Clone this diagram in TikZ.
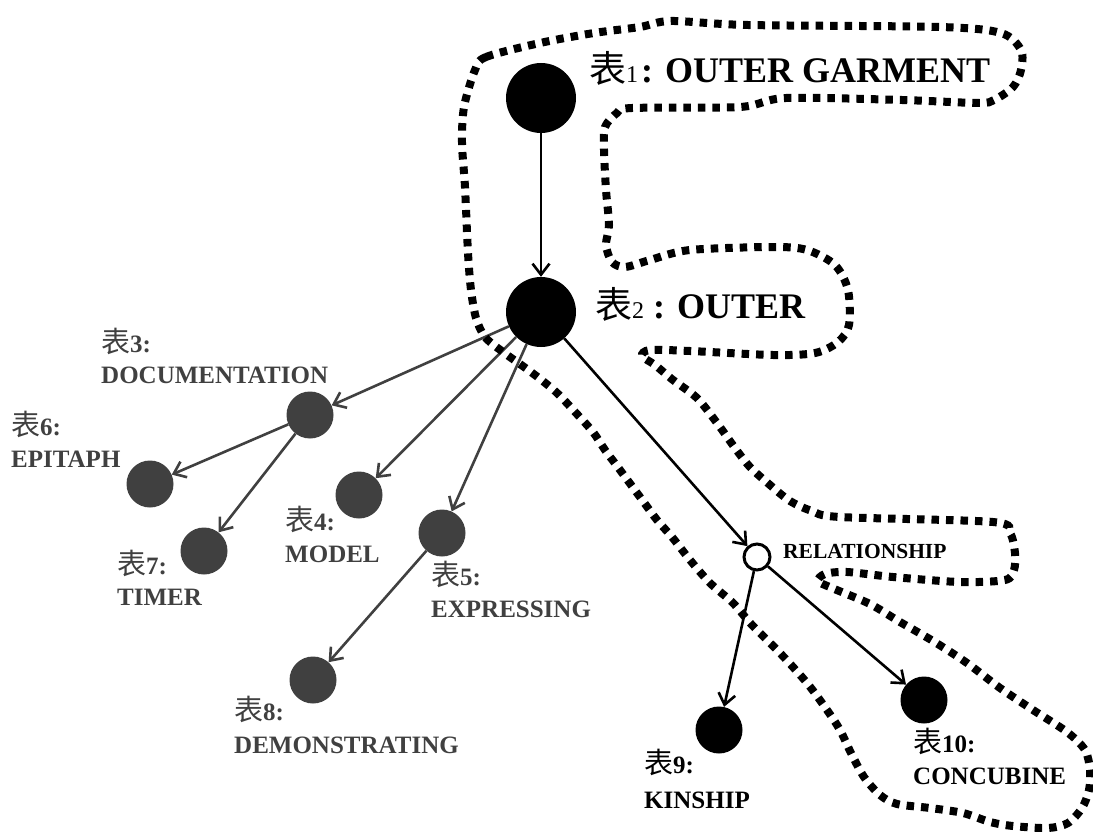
\documentclass[tikz,border=0pt]{standalone}
\usepackage{fontspec}
\setmainfont{Liberation Serif}
\newfontfamily\cjk{Noto Sans CJK SC}
\usetikzlibrary{arrows.meta}
\definecolor{ink}{HTML}{404040}

% CJK character in front of each table number
\newcommand\bz[1]{{\cjk\mdseries\fontsize{29}{30}\selectfont 表}#1}

\tikzset{
  big/.style={circle, fill=black, minimum size=70pt, inner sep=0pt},
  sub/.style={circle, fill=ink, minimum size=47pt, inner sep=0pt},
  leaf/.style={circle, fill=black, minimum size=47pt, inner sep=0pt},
  hub/.style={circle, draw=black, fill=white, line width=3pt, minimum size=26pt, inner sep=0pt},
  link/.style={line width=2.6pt, -{Straight Barb[length=11pt,width=17pt,line width=2.6pt]}},
  grey link/.style={link, draw=ink},
  tag/.style={anchor=base west, inner sep=0pt, font=\fontsize{25}{30}\selectfont\bfseries},
  outline/.style={line width=8pt, dash pattern=on 7.5pt off 7pt}
}

\begin{document}
\begin{tikzpicture}[x=1pt, y=-1pt]
\useasboundingbox (0,0) rectangle (1093,832);

% nodes
\node[big]  (n1)  at (541,98)  {};
\node[big]  (n2)  at (541,312) {};
\node[sub]  (n3)  at (310,415) {};
\node[sub]  (n4)  at (359,495) {};
\node[sub]  (n5)  at (442,533) {};
\node[sub]  (n6)  at (150,484) {};
\node[sub]  (n7)  at (204,551) {};
\node[sub]  (n8)  at (313,680) {};
\node[hub]  (rel) at (757,557) {};
\node[leaf] (n9)  at (719,730) {};
\node[leaf] (n10) at (924,700) {};

% labels
\node[anchor=base west, inner sep=0pt] (t1) at (589,83)
  {{\cjk\fontsize{37}{40}\selectfont 表}{\fontsize{24}{28}\selectfont 1}\hspace{3pt}{\fontsize{36}{40}\selectfont\bfseries : OUTER GARMENT}};
\node[anchor=base west, inner sep=0pt] (t2) at (595,318)
  {{\cjk\fontsize{37}{40}\selectfont 表}{\fontsize{24}{28}\selectfont 2}\hspace{9pt}{\fontsize{36}{40}\selectfont\bfseries : OUTER}};

\node[tag, text=ink] (t3)  at (101,352) {\bz{3:}};
\node[tag, text=ink] (w3)  at (101,383) {DOCUMENTATION};
\node[tag, text=ink] (t6)  at (11,435)  {\bz{6:}};
\node[tag, text=ink] (w6)  at (11,467)  {EPITAPH};
\node[tag, text=ink] (t7)  at (117,574) {\bz{7:}};
\node[tag, text=ink] (w7)  at (117,605) {TIMER};
\node[tag, text=ink] (t4)  at (285,530) {\bz{4:}};
\node[tag, text=ink] (w4)  at (285,562) {MODEL};
\node[tag, text=ink] (t5)  at (431,585) {\bz{5:}};
\node[tag, text=ink] (w5)  at (431,617) {EXPRESSING};
\node[tag, text=ink] (t8)  at (234,720) {\bz{8:}};
\node[tag, text=ink] (w8)  at (234,753) {DEMONSTRATING};
\node[tag] (t9)  at (644,773) {\bz{9:}};
\node[tag] (w9)  at (644,808) {KINSHIP};
\node[tag] (t10) at (913,752) {\bz{10:}};
\node[tag] (w10) at (913,784) {CONCUBINE};
\node[anchor=base west, inner sep=0pt, font=\fontsize{21.5}{26}\selectfont\bfseries] (wr) at (783,558) {RELATIONSHIP};

% connectors
\draw[link] (n1) -- (n2);
\draw[grey link] (n2) -- (n3);
\draw[grey link] (n2) -- (n4);
\draw[grey link] (n2) -- (n5);
\draw[grey link] (n3) -- (n6);
\draw[grey link] (n3) -- (n7);
\draw[grey link] (n5) -- (n8);
\draw[link] (n2) -- (rel);
\draw[link] (rel) -- (n9);
\draw[link] (rel) -- (n10);

% dotted enclosure
\draw[outline] plot[smooth cycle, tension=0.5] coordinates {
 (475,70) (486,57) (540,43) (594,33) (640,27) (671,21) (748,25) (940,27)
 (1001,33) (1021,50) (1021,70) (1013,87) (994,100) (978,103) (902,100)
 (786,98) (740,107) (632,108) (617,113) (605,127) (604,150) (606,190)
 (609,225) (606,245) (612,262) (625,267) (650,260) (690,250) (773,247)
 (807,250) (835,265) (848,290) (849,325) (838,342) (815,353) (773,355)
 (690,351) (650,350) (642,356) (655,365) (673,380) (697,398) (717,423)
 (735,448) (750,467) (770,485) (790,501) (812,511) (840,517) (993,522)
 (1010,533) (1015,553) (1014,570) (1005,580) (960,582) (893,577) (847,572)
 (825,574) (818,581) (832,588) (870,604) (900,622) (933,641) (967,663)
 (1000,688) (1033,710) (1067,732) (1085,750) (1090,770) (1089,790)
 (1082,808) (1068,823) (1048,828) (1013,826) (990,822) (963,813) (930,808)
 (897,804) (880,795) (864,777) (851,753) (840,730) (827,710) (807,683)
 (780,653) (752,625) (733,603) (710,583) (690,560) (672,537) (657,520)
 (640,497) (620,470) (605,450) (593,432) (576,413) (556,392) (531,372)
 (503,352) (485,337) (476,318) (471,290) (468,253) (465,187) (462,143)
 (464,107)};
\end{tikzpicture}
\end{document}
